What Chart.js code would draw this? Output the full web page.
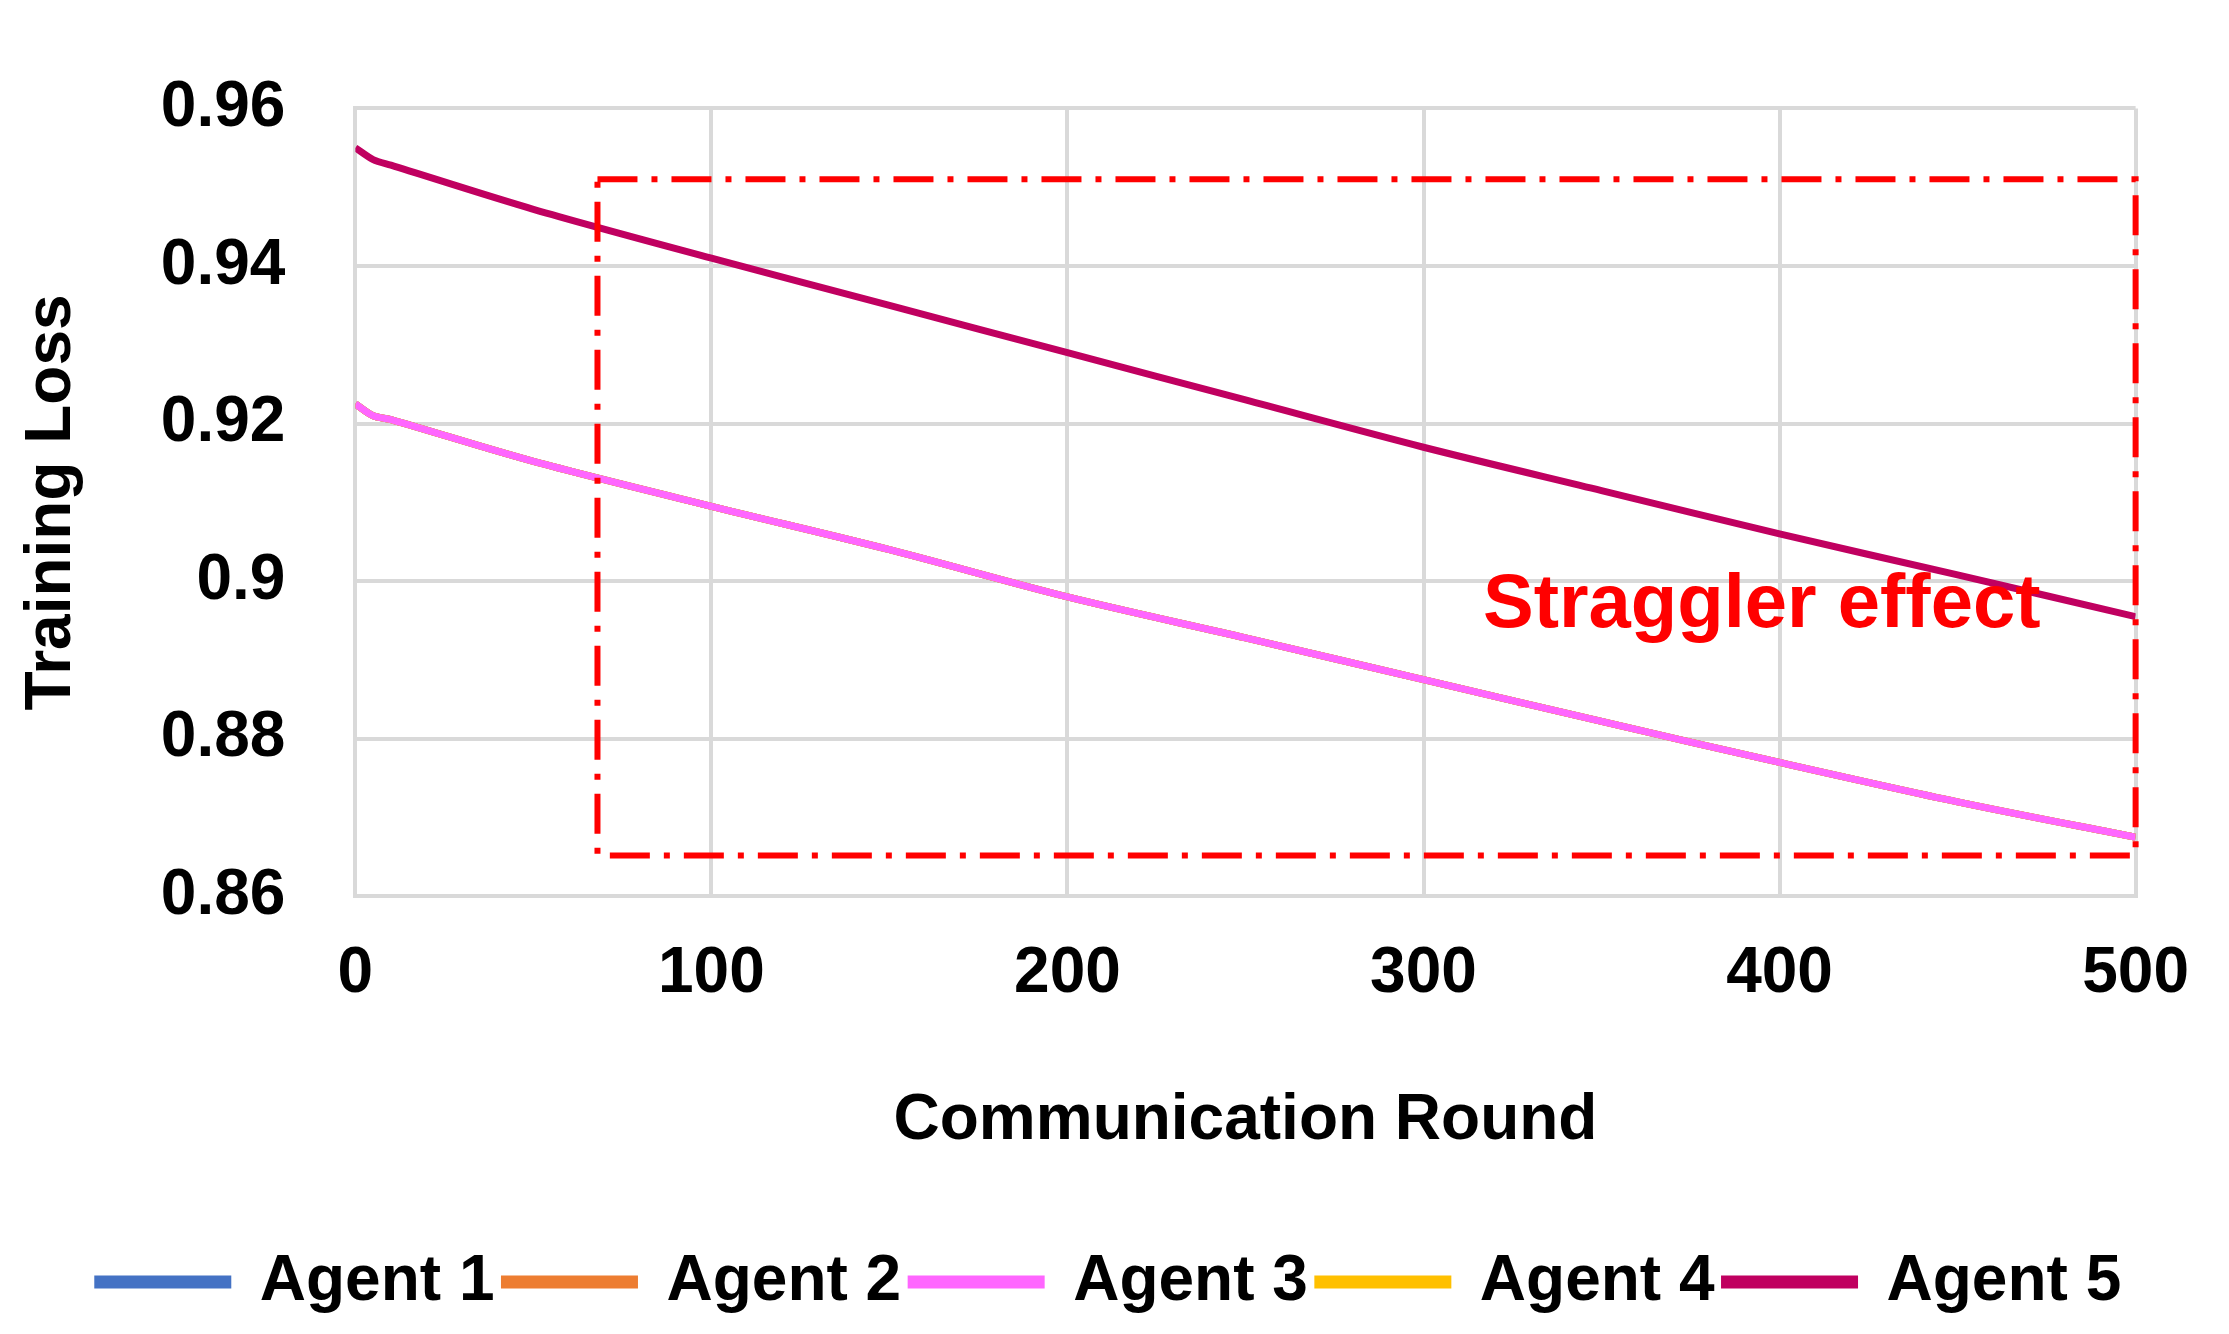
<!DOCTYPE html>
<html><head><meta charset="utf-8">
<script src="https://cdn.jsdelivr.net/npm/chart.js@4"></script>
<style>body{margin:0;background:#fff}</style>
</head><body>
<canvas id="c" width="2229" height="1334"></canvas>
<script>
const rounds = [0, 5, 10, 50, 100, 150, 200, 250, 300, 350, 400, 450, 500];
const agent5 = [0.955, 0.9535, 0.9528, 0.9472, 0.941, 0.935, 0.929, 0.923, 0.917, 0.9115, 0.906, 0.9008, 0.8955];
const agent3 = [0.9225, 0.921, 0.9205, 0.9152, 0.9095, 0.904, 0.898, 0.8928, 0.8875, 0.8822, 0.877, 0.872, 0.8675];
const agent1 = agent3.slice();
const agent2 = agent3.slice();
const agent4 = agent3.slice();
const names = ['Agent 1', 'Agent 2', 'Agent 3', 'Agent 4', 'Agent 5'];
const colors = ['#4472c4', '#ed7d31', '#ff66ff', '#ffc000', '#c00060'];
const drawOrder = [3, 2, 0, 1, 0];
const boxX = [68, 500];
const boxY = [0.8652, 0.951];

const font = "'Liberation Sans Narrow', 'Liberation Sans', sans-serif";
const series = [agent1, agent2, agent3, agent4, agent5];

const boxPlugin = {
  id: 'box',
  afterDatasetsDraw(chart) {
    const {ctx, scales: {x, y}} = chart;
    const l = x.getPixelForValue(boxX[0]), r = x.getPixelForValue(boxX[1]);
    const t = y.getPixelForValue(boxY[1]), b = y.getPixelForValue(boxY[0]);
    ctx.save();
    ctx.strokeStyle = '#ff0000';
    ctx.lineWidth = 6;
    ctx.setLineDash([40, 14, 6, 14]);
    ctx.strokeRect(l, t, r - l, b - t);
    ctx.setLineDash([]);
    ctx.fillStyle = '#ff0000';
    ctx.font = "bold 76px " + font;
    ctx.textAlign = 'center';
    ctx.textBaseline = 'middle';
    ctx.fillText('Straggler effect', x.getPixelForValue(395), y.getPixelForValue(0.8968));
    ctx.restore();
  }
};

new Chart(document.getElementById('c'), {
  type: 'line',
  data: {
    datasets: series.map((s, i) => ({
      label: names[i],
      data: rounds.map((r, j) => ({x: r, y: s[j]})),
      borderColor: colors[i],
      backgroundColor: colors[i],
      borderWidth: 7,
      pointRadius: 0,
      order: drawOrder[i],
      tension: 0.3
    }))
  },
  options: {
    responsive: false,
    animation: false,
    layout: {padding: {left: 10, right: 20, top: 15, bottom: 10}},
    plugins: {
      legend: {
        position: 'bottom',
        labels: {
          font: {family: font, size: 64, weight: 'bold'},
          color: '#000',
          boxWidth: 130,
          boxHeight: 6,
          padding: 10,
          sort: (a, b) => a.datasetIndex - b.datasetIndex
        }
      },
      tooltip: {enabled: false}
    },
    scales: {
      x: {
        type: 'linear', min: 0, max: 500,
        ticks: {stepSize: 100, font: {family: font, size: 64, weight: 'bold'}, color: '#000', padding: 40},
        grid: {color: '#d9d9d9', lineWidth: 4, drawTicks: false},
        border: {color: '#d9d9d9', width: 4},
        title: {display: true, text: 'Communication Round', font: {family: font, size: 64, weight: 'bold'}, color: '#000', padding: {top: 30, bottom: 80}}
      },
      y: {
        min: 0.86, max: 0.96,
        ticks: {stepSize: 0.02, font: {family: font, size: 64, weight: 'bold'}, color: '#000', padding: 70,
          callback: v => String(Math.round(v * 100) / 100)},
        grid: {color: '#d9d9d9', lineWidth: 4, drawTicks: false},
        border: {color: '#d9d9d9', width: 4},
        title: {display: true, text: 'Training Loss', font: {family: font, size: 64, weight: 'bold'}, color: '#000', padding: {bottom: 0}}
      }
    }
  },
  plugins: [boxPlugin]
});
</script>
</body></html>
